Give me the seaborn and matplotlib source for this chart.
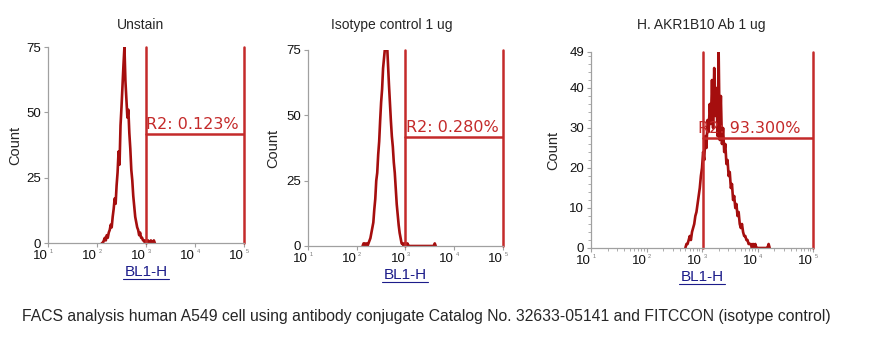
import numpy as np
import pandas as pd
import matplotlib
matplotlib.use('Agg')
import matplotlib.pyplot as plt
from matplotlib.lines import Line2D
from matplotlib.ticker import FixedLocator, NullFormatter, MultipleLocator
import seaborn as sns

# histogram channels: log10 of BL1-H, 0.02 decade per channel
step = 0.02

unstain_start = 2.10
unstain_counts = [0, 0, 1, 2, 1, 3, 2, 4, 5, 7, 6, 10, 13, 17, 15, 22, 27, 35, 30, 45,
                  52, 60, 68, 75, 62, 55, 48, 51, 42, 36, 28, 24, 18, 14, 10, 8, 6, 5, 3, 4,
                  2, 2, 1, 1, 0, 1, 0, 1, 0, 0, 1, 0, 0, 1, 0]

isotype_start = 2.12
isotype_counts = [0, 1, 1, 0, 1, 0, 1, 2, 3, 5, 7, 9, 14, 18, 25, 28, 35, 40, 48, 55,
                  60, 68, 72, 76, 76, 78, 70, 62, 55, 48, 42, 38, 32, 28, 22, 16, 12, 8, 5, 3,
                  1, 1, 0, 1, 1, 0, 1, 0, 0, 0, 0, 0, 0, 0, 0, 0, 0, 0, 0, 0,
                  0, 0, 0, 0, 0, 0, 0, 0, 0, 0, 0, 0, 0, 0, 1, 0]

akr_start = 2.70
akr_counts = [0, 1, 1, 2, 3, 2, 4, 5, 6, 8, 9, 11, 13, 15, 18, 20, 24, 22, 28, 25,
              32, 29, 36, 31, 42, 30, 45, 33, 40, 28, 49, 27, 38, 26, 30, 24, 26, 21, 22, 18,
              19, 15, 16, 12, 13, 10, 11, 8, 9, 6, 5, 6, 4, 3, 3, 2, 2, 1, 1, 1,
              0, 1, 0, 1, 0, 0, 0, 0, 0, 0, 0, 0, 0, 0, 0, 1, 0]

titles = ['Unstain', 'Isotype control 1 ug', 'H. AKR1B10 Ab 1 ug']
gate_labels = ['R2: 0.123%', 'R2: 0.280%', 'R2: 93.300%']
gate_low = [1000, 1000, 1050]
gate_high = [100000, 100000, 100000]
gate_level = [41.7, 41.7, 27.5]
y_max = [75, 75, 49]
y_ticks = [[0, 25, 50, 75], [0, 25, 50, 75], [0, 10, 20, 30, 40, 49]]
x_decades = [10, 100, 1000, 10000, 100000]
x_exponents = ['1', '2', '3', '4', '5']
caption = ('FACS analysis human A549 cell using antibody conjugate Catalog No. '
           '32633-05141 and FITCCON (isotype control)')

sns.set_style('ticks')
plt.rcParams['font.family'] = ['Liberation Sans', 'DejaVu Sans']

fig = plt.figure(figsize=(8.78, 3.60), dpi=100)

W, H = 878, 360
# pixel boxes: left, right, top, bottom
boxes = [(48, 244, 47, 243), (308, 503, 50, 246), (591, 813, 52, 248)]
title_x = [141, 392, 701]
ylabel_x = [15, 273, 553]

series = [(unstain_start, unstain_counts), (isotype_start, isotype_counts),
          (akr_start, akr_counts)]

hist_col = '#a50e0e'
gate_col = '#c42a2a'
spine_col = '#a0a0a0'
label_blue = '#1c1c8a'

for i, (l, r, t, b) in enumerate(boxes):
    ax = fig.add_axes([l / W, 1 - b / H, (r - l) / W, (b - t) / H])
    start, counts = series[i]
    logs = start + step * np.arange(len(counts))
    df = pd.DataFrame({'BL1-H': 10 ** logs, 'Count': counts})
    sns.lineplot(data=df, x='BL1-H', y='Count', ax=ax, color=hist_col, lw=1.9)

    ax.set_xscale('log')
    ax.set_xlim(10, 100000)
    ax.set_ylim(0, y_max[i])

    # gate R2
    ax.plot([gate_low[i]] * 2, [0, y_max[i]], color=gate_col, lw=1.8, clip_on=False)
    ax.plot([gate_high[i]] * 2, [0, y_max[i]], color=gate_col, lw=1.8, clip_on=False)
    ax.plot([gate_low[i], gate_high[i]], [gate_level[i]] * 2, color=gate_col, lw=1.8)
    tx = gate_low[i] * (1.02 if i < 2 else 0.80)
    ax.text(tx, gate_level[i] + y_max[i] * 0.008, gate_labels[i], color=gate_col,
            fontsize=11.5, family='DejaVu Sans', va='bottom', ha='left')

    ax.set_xlabel('')
    ax.set_ylabel('')
    ax.set_yticks(y_ticks[i])
    if i == 2:
        ax.yaxis.set_minor_locator(MultipleLocator(2))
    ax.xaxis.set_major_locator(FixedLocator(x_decades))
    ax.set_xticklabels(['10'] * len(x_decades), ha='right')
    ax.xaxis.set_minor_formatter(NullFormatter())
    ax.tick_params(axis='both', which='major', length=3, width=0.8, color=spine_col,
                   labelsize=9.5, labelcolor='#111111')
    ax.tick_params(axis='x', which='major', pad=2)
    ax.tick_params(axis='y', which='major', pad=2)
    ax.tick_params(axis='both', which='minor', length=2, width=0.6, color=spine_col)
    for xd, ex in zip(x_decades, x_exponents):
        ax.annotate(ex, xy=(xd, 0), xycoords=('data', 'axes fraction'),
                    xytext=(1, -4), textcoords='offset points', fontsize=4,
                    color='#777777', ha='left', va='top')
    sns.despine(ax=ax)
    for s in ['left', 'bottom']:
        ax.spines[s].set_color(spine_col)
        ax.spines[s].set_linewidth(0.9)

    cx = (l + r) / 2
    fig.text(title_x[i] / W, 1 - 25 / H, titles[i], ha='center', va='center', fontsize=10)
    fig.text(ylabel_x[i] / W, 1 - ((t + b) / 2) / H, 'Count', rotation=90,
             ha='center', va='center', fontsize=10.5)
    fig.text(cx / W, 1 - (b + 29) / H, 'BL1-H', ha='center', va='center',
             fontsize=11, color=label_blue)
    fig.add_artist(Line2D([(cx - 23) / W, (cx + 23) / W],
                          [1 - (b + 36) / H] * 2, color=label_blue, lw=0.8))

fig.text(22 / W, 1 - 316 / H, caption, ha='left', va='center', fontsize=11.3)

fig.savefig('out.png', dpi=100)
